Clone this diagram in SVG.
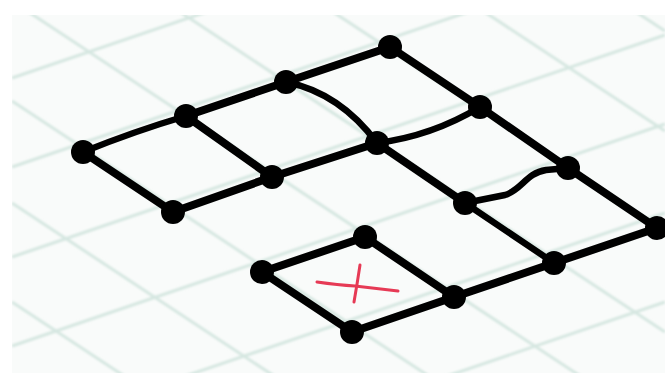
<svg xmlns="http://www.w3.org/2000/svg" width="665" height="373" viewBox="0 0 665 373">
  <defs>
    <clipPath id="paper"><rect x="12" y="15" width="653" height="358"/></clipPath>
    <filter id="soft" x="-5%" y="-5%" width="110%" height="110%"><feGaussianBlur stdDeviation="1.2"/></filter>
    <style>
      .grid line { stroke: #d6e7e1; stroke-width: 3; }
      .edge { fill: none; stroke: #000; stroke-width: 8; stroke-linecap: round; stroke-linejoin: round; }
      .wavy { fill: none; stroke: #000; stroke-width: 6.5; stroke-linecap: round; stroke-linejoin: round; }
      .dot { fill: #000; }
      .mark { fill: none; stroke: #e63a55; stroke-width: 3; stroke-linecap: round; }
    </style>
  </defs>

  <rect x="0" y="0" width="665" height="373" fill="#ffffff"/>
  <rect x="12" y="15" width="653" height="358" fill="#f9fbfa"/>

  <g id="background-grid" class="grid" clip-path="url(#paper)" filter="url(#soft)">
    <line x1="12" y1="302" x2="665" y2="733"/>
    <line x1="12" y1="203" x2="665" y2="634"/>
    <line x1="12" y1="101" x2="665" y2="532"/>
    <line x1="12" y1="1" x2="665" y2="432"/>
    <line x1="12" y1="-99" x2="665" y2="332"/>
    <line x1="12" y1="-200" x2="665" y2="231"/>
    <line x1="12" y1="-300" x2="665" y2="131"/>
    <line x1="12" y1="-400" x2="665" y2="31"/>
    <line x1="12" y1="78" x2="665" y2="-144"/>
    <line x1="12" y1="167" x2="665" y2="-55"/>
    <line x1="12" y1="257" x2="665" y2="35"/>
    <line x1="12" y1="346" x2="665" y2="124"/>
    <line x1="12" y1="435" x2="665" y2="213"/>
    <line x1="12" y1="524" x2="665" y2="302"/>
    <line x1="12" y1="613" x2="665" y2="391"/>
  </g>

  <g id="connectors">
    <path class="wavy" d="M83,152 Q135,131 186,116"/>
    <path class="edge" d="M186,116 L286,82 L390,47"/>
    <path class="edge" d="M83,152 L173,212 L272,177 L377,143"/>
    <path class="edge" d="M186,116 L272,177"/>
    <path class="wavy" d="M286,82 Q340,93 377,143"/>
    <path class="wavy" d="M377,143 Q432,136 480,107"/>
    <path class="edge" d="M390,47 L480,107 L568,168 L657,228 L554,263 L454,297"/>
    <path class="edge" d="M377,143 L465,203"/>
    <path class="wavy" d="M465,203 L554,263"/>
    <path class="wavy" d="M465,203 L505,195 C522,190 526,173 546,170 L568,168"/>
    <path class="edge" d="M262,272 L365,237 L454,297 L352,332 Z"/>
  </g>

  <g id="cross">
    <path class="mark" d="M317,282 Q338,285 355,286 Q372,288 398,291"/>
    <path class="mark" d="M360,265 Q357,285 354,302"/>
  </g>

  <g id="n-a"><circle class="dot" cx="83" cy="152" r="12"/></g>
  <g id="n-b"><circle class="dot" cx="186" cy="116" r="12"/></g>
  <g id="n-c"><circle class="dot" cx="286" cy="82" r="12"/></g>
  <g id="n-d"><circle class="dot" cx="390" cy="47" r="12"/></g>
  <g id="n-e"><circle class="dot" cx="173" cy="212" r="12"/></g>
  <g id="n-f"><circle class="dot" cx="272" cy="177" r="12"/></g>
  <g id="n-g"><circle class="dot" cx="377" cy="143" r="12"/></g>
  <g id="n-h"><circle class="dot" cx="480" cy="107" r="12"/></g>
  <g id="n-i"><circle class="dot" cx="465" cy="203" r="12"/></g>
  <g id="n-j"><circle class="dot" cx="568" cy="168" r="12"/></g>
  <g id="n-k"><circle class="dot" cx="657" cy="228" r="12"/></g>
  <g id="n-l"><circle class="dot" cx="554" cy="263" r="12"/></g>
  <g id="n-m"><circle class="dot" cx="262" cy="272" r="12"/></g>
  <g id="n-n"><circle class="dot" cx="365" cy="237" r="12"/></g>
  <g id="n-o"><circle class="dot" cx="454" cy="297" r="12"/></g>
  <g id="n-p"><circle class="dot" cx="352" cy="332" r="12"/></g>
</svg>
